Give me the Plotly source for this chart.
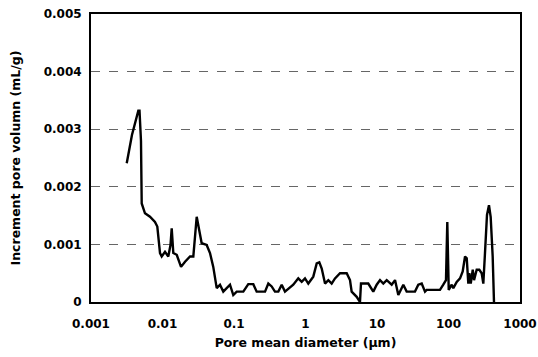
import plotly.graph_objects as go

# Pore mean diameter (µm)
diameter = [0.00316, 0.00374, 0.00459, 0.00477, 0.0050, 0.00512, 0.00569, 0.00668, 0.00785, 0.00846,
            0.00923, 0.00975, 0.01084, 0.01205, 0.01294, 0.01345, 0.01417, 0.01581, 0.01816, 0.02066,
            0.02427, 0.02698, 0.03008, 0.03532, 0.0415, 0.04616, 0.0513, 0.0573, 0.0637, 0.0708,
            0.079, 0.0879, 0.0977, 0.1091, 0.1349, 0.1585, 0.1862, 0.2075, 0.2716, 0.302,
            0.3365, 0.374, 0.417, 0.4645, 0.5164, 0.6745, 0.7925, 0.885, 0.984, 1.094,
            1.285, 1.435, 1.56, 1.686, 1.875, 2.086, 2.323, 2.586, 3.04, 3.77,
            4.19, 4.42, 5.2, 5.78, 5.97, 7.55, 8.87, 9.9, 11.02, 12.25,
            13.67, 16.06, 17.87, 19.86, 23.33, 26.0, 33.97, 37.8, 42.2, 46.9,
            49.5, 76.0, 84.5, 92.2, 96.2, 100.7, 110.9, 116.8, 130.3, 144.9,
            158.0, 170.3, 179.9, 189.3, 195.5, 204.7, 218.3, 227.6, 247.9, 269.8,
            291.2, 306.9, 323.9, 345.4, 368.3, 388.9, 414.8, 432.7]
# Increment pore volume (mL/g)
volume = [0.00241, 0.0029, 0.00332, 0.00332, 0.0028, 0.00171, 0.00154, 0.00148, 0.00139, 0.00131,
          0.00085, 0.00079, 0.00087, 0.00079, 0.00099, 0.00128, 0.00085, 0.00082, 0.00061, 0.0007,
          0.00079, 0.00079, 0.00148, 0.00102, 0.00099, 0.00085, 0.00061, 0.00024, 0.0003, 0.00018,
          0.00024, 0.0003, 0.00012, 0.00018, 0.00018, 0.00031, 0.00031, 0.00018, 0.00018, 0.00032,
          0.00027, 0.00018, 0.00018, 0.0003, 0.00018, 0.0003, 0.00041, 0.00035, 0.00041, 0.00032,
          0.00044, 0.00067, 0.00069, 0.00058, 0.00032, 0.00038, 0.00032, 0.00041, 0.0005, 0.0005,
          0.00038, 0.00018, 0.00009, 0.0, 0.00032, 0.00032, 0.00018, 0.0003, 0.00038, 0.00032,
          0.00038, 0.0003, 0.00038, 0.00012, 0.0003, 0.00018, 0.00018, 0.0003, 0.00032, 0.00018,
          0.00021, 0.00021, 0.0003, 0.00038, 0.00139, 0.00021, 0.0003, 0.00024, 0.00035, 0.00041,
          0.00053, 0.00079, 0.00076, 0.00032, 0.0005, 0.00032, 0.00056, 0.00038, 0.00056, 0.00056,
          0.0005, 0.00032, 0.00085, 0.00151, 0.00168, 0.00148, 0.00079, 0.0]

x_ticks = [0.001, 0.01, 0.1, 1, 10, 100, 1000]
x_ticktext = ["0.001", "0.01", "0.1", "1", "10", "100", "1000"]
y_ticks = [0, 0.001, 0.002, 0.003, 0.004, 0.005]
y_ticktext = ["0", "0.001", "0.002", "0.003", "0.004", "0.005"]

tick_font = dict(family="DejaVu Sans, sans-serif", size=12, color="black", weight="bold")
title_font = dict(family="DejaVu Sans, sans-serif", size=12.5, color="black", weight="bold")

fig = go.Figure()
fig.add_trace(go.Scatter(x=diameter, y=volume, mode="lines",
                         line=dict(color="black", width=2.4), showlegend=False))

fig.update_layout(
    width=538, height=357,
    margin=dict(l=91, r=18, t=14, b=55, autoexpand=False),
    paper_bgcolor="white", plot_bgcolor="white",
    font=tick_font,
    xaxis=dict(type="log", range=[-3, 3], tickvals=x_ticks, ticktext=x_ticktext,
               showgrid=False, zeroline=False, showline=True, linecolor="black",
               linewidth=2, mirror=True, ticks="", tickfont=tick_font,
               ticklabelstandoff=10, automargin=False,
               title=dict(text="Pore mean diameter (μm)", font=title_font, standoff=8)),
    yaxis=dict(range=[0, 0.005], tickvals=y_ticks, ticktext=y_ticktext,
               showgrid=True, gridcolor="#666666", griddash="dash", gridwidth=1,
               zeroline=False, showline=True, linecolor="black", linewidth=2,
               mirror=True, ticks="", tickfont=tick_font, ticklabelstandoff=5,
               automargin=False,
               title=dict(text="Increment pore volumn (mL/g)", font=title_font, standoff=20)),
)

fig.write_html("out.html")
